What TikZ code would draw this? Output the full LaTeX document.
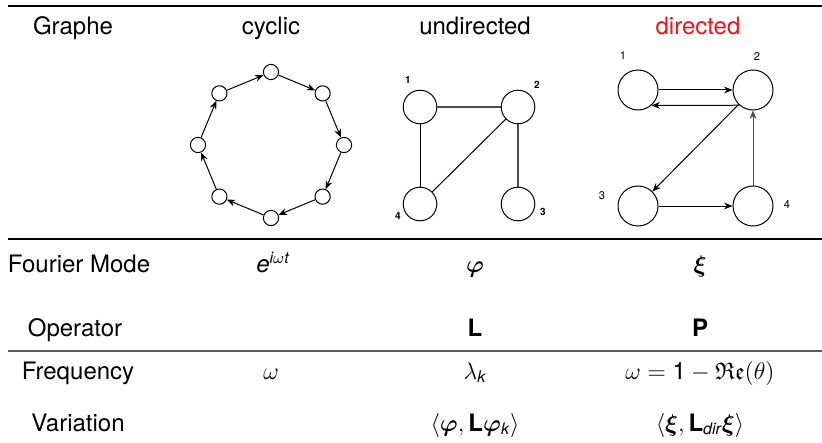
\documentclass[tikz,border=0pt]{standalone}
\usepackage{fix-cm}
\usepackage{amsmath,amssymb}
\usepackage{bm}
\usepackage{fontspec}
\setmainfont{TeX Gyre Heros}
\usetikzlibrary{arrows.meta,calc}
\definecolor{hdred}{RGB}{240,20,20}
\tikzset{
  txt/.style={anchor=base,inner sep=0pt,font=\fontsize{12}{14}\selectfont},
  cnode/.style={circle,draw,line width=0.5pt,minimum size=7.6pt,inner sep=0pt},
  unode/.style={circle,draw,line width=0.5pt,minimum size=16.8pt,inner sep=0pt},
  dnode/.style={circle,draw,line width=0.5pt,minimum size=20pt,inner sep=0pt},
  ulab/.style={inner sep=0pt,font=\fontsize{5}{6}\selectfont\bfseries},
  dlab/.style={inner sep=0pt,font=\fontsize{5.6}{6.5}\selectfont},
  arr/.style={line width=0.5pt,-{Stealth[length=4.2pt,width=3.4pt]}},
  edge/.style={line width=0.5pt},
  grayedge/.style={line width=0.6pt,draw=black!70},
  rulethick/.style={line width=1.2pt},
  rulemid/.style={line width=1pt},
  rulethin/.style={line width=0.8pt,draw=black!65}
}
\begin{document}
\begin{tikzpicture}[x=0.5pt,y=-0.5pt]
\useasboundingbox (0,0) rectangle (822,443);
% rules
\draw[rulethick] (8,6) -- (822,6);
\draw[rulemid] (8,239) -- (822,239);
\draw[rulethin] (8,351) -- (822,351);
% header
\node[txt] (hgraphe) at (73,35) {Graphe};
\node[txt] (hcyc) at (271,35) {cyclic};
\node[txt] (hund) at (475,35) {undirected};
\node[txt,text=hdred] (hdir) at (698,35) {directed};
% cyclic graph
\foreach \i in {0,...,7}{
  \node[cnode] (c\i) at ($(271,145)+(-90+45*\i:73)$) {};
}
\foreach \i in {0,...,7}{
  \pgfmathtruncatemacro{\j}{mod(\i+1,8)}
  \draw[arr] (c\i) -- (c\j);
}
% undirected graph
\node[unode] (u1) at (420,107) {};
\node[unode] (u2) at (518,107) {};
\node[unode] (u3) at (518,204) {};
\node[unode] (u4) at (420,204) {};
\draw[grayedge] (u1) -- (u2);
\draw[edge] (u1) -- (u4);
\draw[edge] (u2) -- (u4);
\draw[grayedge] (u2) -- (u3);
\node[ulab] (ul1) at (408,80) {1};
\node[ulab] (ul2) at (537,85) {2};
\node[ulab] (ul3) at (543,212) {3};
\node[ulab] (ul4) at (398,216) {4};
% directed graph
\node[dnode] (d1) at (638,90) {};
\node[dnode] (d2) at (753,90) {};
\node[dnode] (d3) at (638,206) {};
\node[dnode] (d4) at (753,206) {};
\draw[arr] (d1) -- (d2);
\draw[arr] (d2.228.6) -- (d1.311.4);
\draw[arr] (d2) -- (d3);
\draw[arr] (d3) -- (d4);
\draw[arr,draw=black!70] (d4) -- (d2);
\node[dlab] (dl1) at (623,56) {1};
\node[dlab] (dl2) at (757,57) {2};
\node[dlab] (dl3) at (602,196) {3};
\node[dlab] (dl4) at (787,205) {4};
% Fourier Mode row
\node[txt] (fm) at (79,272) {Fourier Mode};
\node[txt] (fm2) at (273,272) {$\textit{e}^{\textit{i}\omega\textit{t}}$};
\node[txt] (fm3) at (475,272) {$\bm{\varphi}$};
\node[txt] (fm4) at (700,272) {$\bm{\xi}$};
% Operator row
\node[txt] (op) at (75,336) {Operator};
\node[txt] (op3) at (475,336) {\textbf{L}};
\node[txt] (op4) at (700,336) {\textbf{P}};
% Frequency row
\node[txt] (fr) at (78,379) {Frequency};
\node[txt] (fr2) at (271,379) {$\omega$};
\node[txt] (fr3) at (475,379) {$\lambda_{\textit{k}}$};
\node[txt] (fr4) at (700,379) {$\omega = \textrm{1} - \mathfrak{Re}(\theta)$};
% Variation row
\node[txt] (va) at (78,431) {Variation};
\node[txt] (va3) at (475,431) {$\langle\bm{\varphi}, \textbf{L}\bm{\varphi}_{\textit{k}}\rangle$};
\node[txt] (va4) at (700,431) {$\langle\bm{\xi}, \textbf{L}_{\textit{dir}}\bm{\xi}\rangle$};
\end{tikzpicture}
\end{document}
